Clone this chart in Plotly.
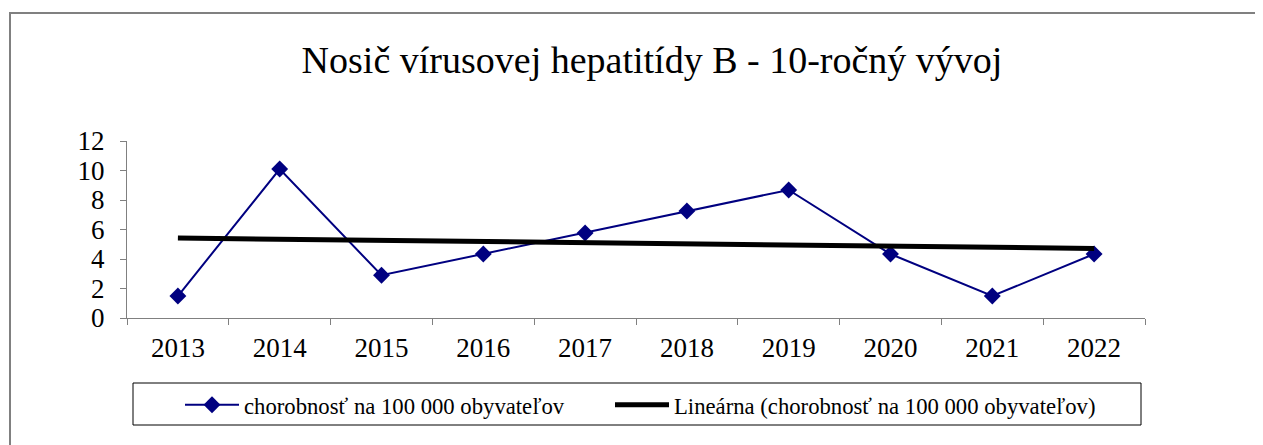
import numpy as np
import plotly.graph_objects as go

years = ["2013", "2014", "2015", "2016", "2017", "2018", "2019", "2020", "2021", "2022"]
incidence = [1.49, 10.1, 2.9, 4.34, 5.76, 7.25, 8.68, 4.34, 1.49, 4.34]
series_name = "chorobnosť na 100 000 obyvateľov"
trend_name = "Lineárna (chorobnosť na 100 000 obyvateľov)"
title_text = "Nosič vírusovej hepatitídy B - 10-ročný vývoj"
y_ticks = [0, 2, 4, 6, 8, 10, 12]

# linear trend (least squares, like a spreadsheet trendline)
idx = np.arange(len(incidence))
slope, intercept = np.polyfit(idx, incidence, 1)
trend = (slope * idx + intercept).tolist()

FONT = "Liberation Serif"

fig = go.Figure()
fig.add_trace(go.Scatter(
    x=years, y=incidence, name=series_name, mode="lines+markers",
    line=dict(color="#000080", width=2),
    marker=dict(symbol="diamond", size=13, color="#000080"),
    cliponaxis=False, legend="legend",
))
fig.add_trace(go.Scatter(
    x=years, y=trend, name=trend_name, mode="lines",
    line=dict(color="#000000", width=5),
    cliponaxis=False, legend="legend2",
))

OFF = 8  # page body margin
W, H = 1263, 445
# desired screen positions of the plot area
SX0, SX1, SY0, SY1 = 127, 1145, 141, 318
L = SX0 - OFF
T = SY0 - OFF
R = W - (SX1 - OFF)
B = H - (SY1 - OFF)
pw = SX1 - SX0
ph = SY1 - SY0

def px_x(x):
    return (x - SX0) / pw

def px_y(y):
    return (SY1 - y) / ph

shapes = [
    # outer chart frame
    dict(type="rect", xref="paper", yref="paper",
         x0=px_x(10), x1=px_x(1280), y0=px_y(460), y1=px_y(13),
         line=dict(color="#808080", width=2), fillcolor="rgba(0,0,0,0)", layer="below"),
    # legend box
    dict(type="rect", xref="paper", yref="paper",
         x0=px_x(133), x1=px_x(1141), y0=px_y(425), y1=px_y(383),
         line=dict(color="#000000", width=1), fillcolor="rgba(0,0,0,0)"),
]

legend_common = dict(orientation="h", xanchor="left", y=px_y(405), yanchor="middle",
                     font=dict(family=FONT, size=22.7, color="black"),
                     bgcolor="rgba(0,0,0,0)", borderwidth=0, itemwidth=54)

fig.update_layout(
    width=W, height=H,
    margin=dict(l=L, r=R, t=T, b=B),
    paper_bgcolor="white", plot_bgcolor="white",
    font=dict(family=FONT, color="black"),
    title=dict(text=title_text, font=dict(family=FONT, size=38, color="black"),
               x=(652 - OFF) / W, xref="container", xanchor="center",
               y=1 - (60 - OFF) / H, yref="container", yanchor="middle"),
    xaxis=dict(type="category", tickson="boundaries", showgrid=False,
               showline=True, linecolor="#808080", linewidth=1,
               ticks="outside", ticklen=6, tickcolor="#808080",
               tickfont=dict(family=FONT, size=27, color="black"),
               ticklabelstandoff=6, range=[-0.5, 9.5], zeroline=False),
    yaxis=dict(range=[0, 12], tickvals=y_ticks, showgrid=False,
               showline=True, linecolor="#808080", linewidth=1,
               ticks="outside", ticklen=6, tickcolor="#808080",
               tickfont=dict(family=FONT, size=27, color="black"),
               ticklabelstandoff=10, zeroline=False),
    legend=dict(x=px_x(180), **legend_common),
    legend2=dict(x=px_x(610), **legend_common),
    shapes=shapes,
    hovermode=False,
    showlegend=True,
)

fig.write_html("out.html")
